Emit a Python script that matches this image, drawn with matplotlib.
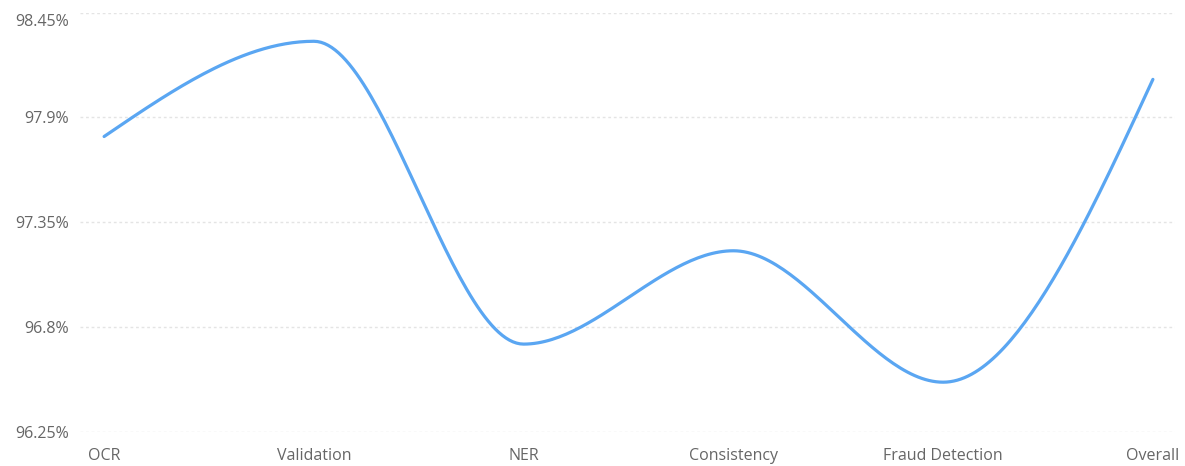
import numpy as np
import matplotlib
matplotlib.use("Agg")
import matplotlib.pyplot as plt
from matplotlib.ticker import FuncFormatter
import matplotlib.transforms as mtransforms

categories = ["OCR", "Validation", "NER", "Consistency", "Fraud Detection", "Overall"]
accuracy = [97.80, 98.30, 96.71, 97.20, 96.51, 98.10]
y_ticks = [96.25, 96.8, 97.35, 97.9, 98.45]


def monotone_x(x, y, n=60):
    # d3.curveMonotoneX (Steffen) interpolation
    x = np.asarray(x, float); y = np.asarray(y, float)
    h = np.diff(x); s = np.diff(y) / h
    m = len(x); t = np.zeros(m)
    for i in range(1, m - 1):
        p = (s[i-1] * h[i] + s[i] * h[i-1]) / (h[i-1] + h[i])
        t[i] = (np.sign(s[i-1]) + np.sign(s[i])) * min(abs(s[i-1]), abs(s[i]), 0.5 * abs(p))
    t[0] = (3 * s[0] - t[1]) / 2
    t[-1] = (3 * s[-1] - t[-2]) / 2
    xs, ys = [], []
    for i in range(m - 1):
        u = np.linspace(0, 1, n)
        dx = h[i] / 3
        p0, p1 = y[i], y[i] + dx * t[i]
        p2, p3 = y[i+1] - dx * t[i+1], y[i+1]
        bx = x[i] + u * h[i]
        by = (1-u)**3*p0 + 3*(1-u)**2*u*p1 + 3*(1-u)*u**2*p2 + u**3*p3
        xs.append(bx); ys.append(by)
    return np.concatenate(xs), np.concatenate(ys)


plt.rcParams['font.family'] = ['Open Sans', 'DejaVu Sans']
fig = plt.figure(figsize=(11.85, 4.66), dpi=100)
ax = fig.add_axes([0.0675, 0.0736, 0.924, 0.8991])

xi = np.arange(len(categories))
sx, sy = monotone_x(xi, accuracy)
ax.plot(sx, sy, color="#5aa6f2", lw=2.3, solid_capstyle="round", zorder=3)

ax.set_xlim(-0.115, len(categories) - 1 + 0.105)
ax.set_ylim(y_ticks[0], y_ticks[-1])
ax.set_yticks(y_ticks)
ax.yaxis.set_major_formatter(FuncFormatter(lambda v, p: f"{v:g}%"))
ax.set_xticks(xi)
ax.set_xticklabels(categories)
ax.grid(axis="y", color="#e4e4e4", lw=1, ls=(0, (2, 2)))
ax.set_axisbelow(True)
for sp in ax.spines.values():
    sp.set_visible(False)
ax.tick_params(axis="both", length=0, labelsize=11.5, colors="#666666")
ax.tick_params(axis="y", pad=8)
ax.tick_params(axis="x", pad=12)

fig.canvas.draw()
top_label = ax.get_yticklabels()[-1]
top_label.set_transform(top_label.get_transform() +
                        mtransforms.ScaledTranslation(0, -7 / 100, fig.dpi_scale_trans))

fig.savefig("out.png", dpi=100)
